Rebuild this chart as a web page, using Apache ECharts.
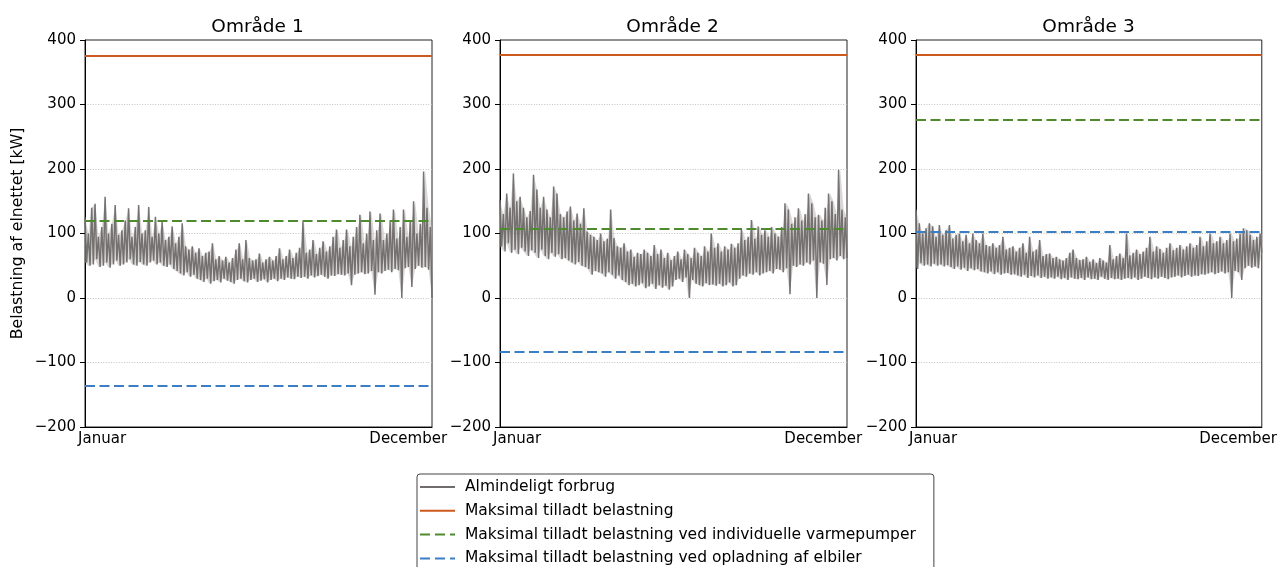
<!DOCTYPE html>
<html><head><meta charset="utf-8">
<script src="https://cdn.jsdelivr.net/npm/echarts@6/dist/echarts.min.js"></script>
<style>html,body{margin:0;padding:0;background:#fff}#c{width:1280px;height:567px}</style>
</head><body><div id="c"></div>
<script>
const panelTitles = ['Område 1', 'Område 2', 'Område 3'];
const seriesNames = [
  'Almindeligt forbrug',
  'Maksimal tilladt belastning',
  'Maksimal tilladt belastning ved individuelle varmepumper',
  'Maksimal tilladt belastning ved opladning af elbiler'
];
const yAxisTitle = 'Belastning af elnettet [kW]';
const xTickLabels = ['Januar', 'December'];
const xTickDays = [18, 340];
const maxLoad = [376, 377, 377];
const heatPumpLimit = [120, 108, 277];
const evLimit = [-136, -84, 103];

// Gray load series: high / low envelope read every ~3.5 days
const p1Hi = [125,100,140,146,95,110,157,100,115,144,
  98,105,120,139,95,110,144,100,105,141,
  95,126,100,118,90,95,111,85,95,116,
  80,75,80,70,77,65,70,72,85,60,
  65,58,64,55,62,75,85,60,90,62,
  58,60,69,55,60,64,58,65,77,60,
  65,75,62,70,78,118,70,75,90,68,
  78,88,72,80,95,106,78,90,106,80,
  95,110,129,85,100,134,90,105,131,90,
  100,118,137,92,110,137,95,120,150,100,
  115,196,140,110];
const p1Lo = [55,50,52,60,48,50,55,47,52,58,
  50,52,55,60,52,50,56,52,50,55,
  58,52,55,50,48,52,45,42,38,35,
  40,33,36,30,28,25,30,22,26,28,
  24,30,27,25,22,28,30,26,24,28,
  30,25,27,29,24,28,30,26,30,28,
  32,30,29,33,31,33,30,35,32,34,
  36,33,30,35,34,37,36,35,38,20,
  36,38,40,37,38,42,5,40,38,42,
  44,40,45,43,0,46,48,17,45,50,
  47,48,44,0];
const p2Hi = [152,130,162,140,193,150,157,140,125,135,
  191,168,140,157,137,125,173,162,130,125,
  134,142,120,131,115,139,103,98,95,90,
  100,88,92,137,93,80,78,85,72,75,
  64,70,68,75,70,65,82,68,75,62,
  70,59,65,72,60,75,68,62,78,70,
  65,80,72,100,78,85,72,80,75,84,
  78,85,106,90,95,121,92,111,98,105,
  95,110,100,95,110,147,137,115,125,139,
  120,130,162,147,125,129,120,140,162,150,
  130,199,137,125];
const p2Lo = [80,72,85,70,75,68,78,72,65,74,
  70,62,75,65,60,70,64,68,60,62,
  58,55,52,56,50,48,45,36,42,40,
  38,33,40,36,30,35,28,25,20,22,
  18,20,23,15,18,22,14,20,16,19,
  13,18,28,30,25,32,0,28,22,20,
  18,23,20,21,19,22,18,20,24,18,
  20,30,35,33,38,36,40,35,38,40,
  42,38,45,44,40,46,6,50,48,52,
  50,55,52,58,0,55,53,20,60,62,
  58,65,60,62];
const p3Hi = [137,116,100,108,116,111,95,113,98,105,
  113,92,98,100,88,98,85,100,90,85,
  100,82,80,85,78,82,95,75,78,80,
  72,78,85,70,95,72,75,90,65,68,
  69,62,64,60,58,62,70,75,62,59,
  60,64,56,60,54,62,58,55,82,60,
  65,69,62,100,66,70,75,68,72,78,
  95,72,80,76,70,78,85,74,78,82,
  75,80,85,78,82,95,80,88,100,85,
  88,95,85,90,100,88,92,100,108,105,
  98,90,95,100];
const p3Lo = [45,54,50,52,49,53,50,52,49,51,
  48,45,49,44,47,42,46,43,45,41,
  40,38,41,37,40,36,38,39,36,37,
  35,33,36,31,34,32,35,31,33,30,
  32,30,33,29,31,28,32,30,29,31,
  28,32,29,30,28,33,30,28,31,29,
  30,28,30,31,29,32,28,30,33,31,
  29,32,30,33,31,29,32,33,35,32,
  34,36,33,35,34,37,36,38,40,37,
  39,41,38,40,0,42,40,28,46,50,
  47,49,46,70];

const hiArr = [p1Hi, p2Hi, p3Hi];
const loArr = [p1Lo, p2Lo, p3Lo];

const FONT = 'DejaVu Sans';
const DAYS = 365;
const gridLeft = [85, 500, 916];
const gridW = 347, gridTop = 40, gridH = 387;
const colGray = '#706c6b', colOrange = '#cc5a1e', colGreen = '#4f8a2f', colBlue = '#3b7ec4';
const dash = [10, 4.5];

function buildLoad(hi, lo) {
  const vals = [];
  for (let k = 0; k < hi.length; k++) { vals.push(hi[k]); vals.push(lo[k]); }
  const n = vals.length;
  return vals.map((v, j) => [j * DAYS / (n - 1), v]);
}
function envX(k, n) { return k * DAYS / (n - 1); }

const grids = [], xAxes = [], yAxes = [], series = [], titles = [];
for (let i = 0; i < 3; i++) {
  const hi = hiArr[i], lo = loArr[i], n = hi.length;
  grids.push({left: gridLeft[i], top: gridTop, width: gridW, height: gridH,
    show: true, borderColor: '#222', borderWidth: 1, backgroundColor: 'transparent'});
  titles.push({text: panelTitles[i], left: gridLeft[i] + gridW / 2 - 6, top: 13, textAlign: 'center',
    textStyle: {fontSize: 18.5, fontWeight: 'normal', color: '#000', fontFamily: FONT}});
  xAxes.push({gridIndex: i, type: 'value', min: 0, max: DAYS,
    axisLine: {show: true, onZero: false, lineStyle: {color: '#000', width: 1}},
    axisTick: {show: false}, splitLine: {show: false},
    axisLabel: {customValues: xTickDays, margin: 5, fontSize: 15, color: '#000', fontFamily: FONT,
      formatter: (v) => { const k = xTickDays.indexOf(v); return k >= 0 ? xTickLabels[k] : ''; }}});
  yAxes.push({gridIndex: i, type: 'value', min: -200, max: 400, interval: 100,
    name: i === 0 ? yAxisTitle : '', nameLocation: 'middle', nameGap: 59,
    nameTextStyle: {fontSize: 15.7, color: '#000', fontFamily: FONT},
    axisLine: {show: true, lineStyle: {color: '#000', width: 1}},
    axisTick: {show: true, length: 5, lineStyle: {color: '#000'}},
    axisLabel: {margin: 9, fontSize: 15, color: '#000', fontFamily: FONT,
      formatter: (v) => String(v).replace('-', '\u2212')},
    splitLine: {show: true, showMinLine: false, showMaxLine: false,
      lineStyle: {color: '#c4c4c4', width: 1, type: [1, 1.6]}}});
  // light envelope band behind the hourly trace (drawn from hi/lo through the axes)
  series.push({name: 'band-' + i, type: 'custom', xAxisIndex: i, yAxisIndex: i, silent: true, z: 1,
    data: [[0, lo[0]]],
    renderItem: (params, api) => {
      const pts = [];
      for (let k = 0; k < n; k++) pts.push(api.coord([envX(k, n), hi[k]]));
      for (let k = n - 1; k >= 0; k--) pts.push(api.coord([envX(k, n), lo[k]]));
      return {type: 'polygon', shape: {points: pts}, style: {fill: '#b3b0af', opacity: 0.5}};
    }});
  series.push({name: seriesNames[0], type: 'line', xAxisIndex: i, yAxisIndex: i,
    data: buildLoad(hi, lo), symbol: 'none', silent: true, z: 2,
    lineStyle: {color: colGray, width: 1.5, opacity: 0.95}, itemStyle: {color: colGray}});
  const lims = [[seriesNames[1], maxLoad[i], colOrange, 'solid'],
                [seriesNames[2], heatPumpLimit[i], colGreen, dash],
                [seriesNames[3], evLimit[i], colBlue, dash]];
  lims.forEach(([nm, v, c, t]) => {
    series.push({name: nm, type: 'line', xAxisIndex: i, yAxisIndex: i, data: [], symbol: 'none', z: 3,
      lineStyle: {color: c, width: 2, type: t}, itemStyle: {color: c},
      markLine: {silent: true, symbol: ['none', 'none'], label: {show: false},
        lineStyle: {color: c, width: 2, type: t}, data: [{yAxis: v}], animation: false}});
  });
}

const solidIcon = 'path://M0,0h35v2h-35z';
const dashIcon = 'path://M0,0h10v2h-10zM15,0h10v2h-10zM30,0h5v2h-5z';
const legendIcons = [solidIcon, solidIcon, dashIcon, dashIcon];

const chart = echarts.init(document.getElementById('c'), null, {renderer: 'canvas'});
chart.setOption({
  animation: false,
  backgroundColor: '#fff',
  title: titles,
  grid: grids, xAxis: xAxes, yAxis: yAxes, series: series,
  legend: {orient: 'vertical', left: 417, top: 474, height: 160, padding: [5, 18, 6, 3], itemGap: 7.8,
    itemWidth: 35, itemHeight: 15.5, backgroundColor: '#fff', borderColor: '#444', borderWidth: 1, borderRadius: 3,
    selectedMode: false,
    textStyle: {fontSize: 15.5, color: '#000', fontFamily: FONT, padding: [0, 0, 0, 5]},
    data: seriesNames.map((n, i) => ({name: n, icon: legendIcons[i]}))}
});
</script></body></html>
